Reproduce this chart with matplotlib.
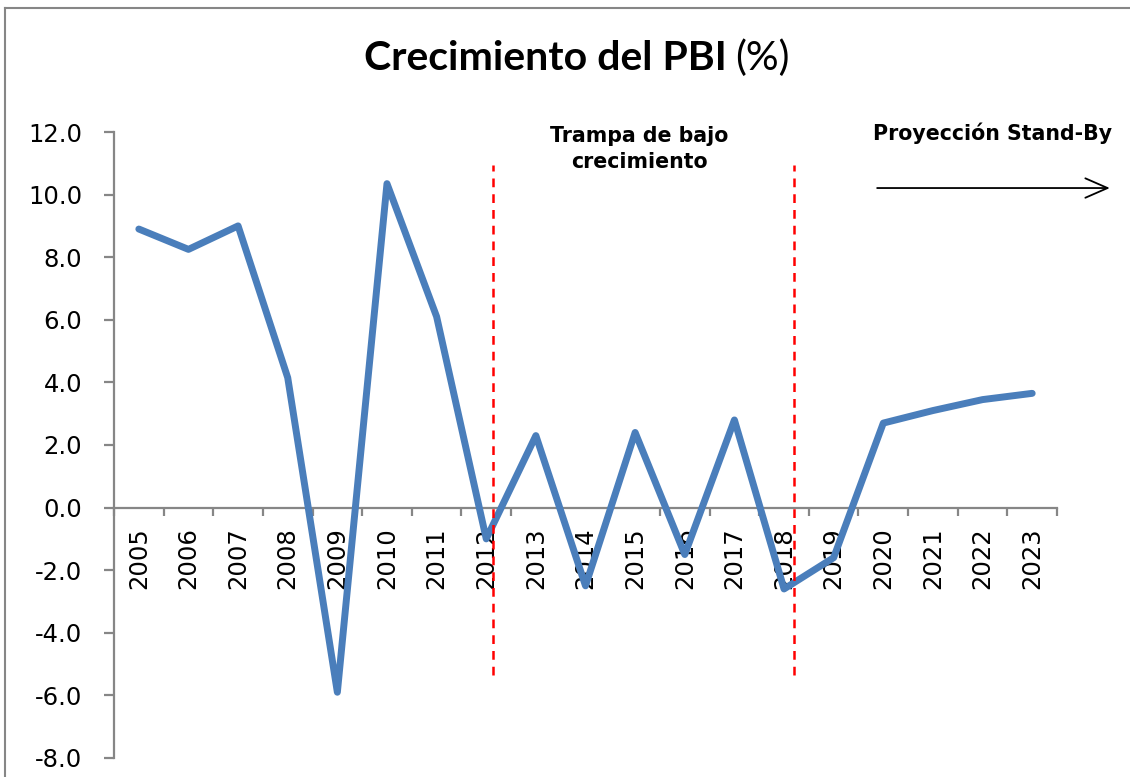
import matplotlib
matplotlib.use("Agg")
import matplotlib.pyplot as plt
from matplotlib.lines import Line2D

# data
years = [str(y) for y in range(2005, 2024)]
growth = [8.9, 8.25, 9.0, 4.15, -5.9, 10.35, 6.1, -1.0, 2.3, -2.5,
          2.4, -1.5, 2.8, -2.6, -1.6, 2.7, 3.1, 3.45, 3.65]
yticks = [-8, -6, -4, -2, 0, 2, 4, 6, 8, 10, 12]

# vertical markers (category index positions) and their vertical extent
split_x = [7.13, 13.2]
split_y = (-5.35, 10.95)

gray = '#868686'
blue = '#4A7EBB'

fig = plt.figure(figsize=(11.3, 7.77), dpi=100)
ax = fig.add_axes([0.1009, 0.0245, 0.8345, 0.8056])

x = list(range(len(years)))
ax.plot(x, growth, color=blue, lw=5, solid_joinstyle='round', solid_capstyle='round', zorder=3)

for sx in split_x:
    ax.plot([sx, sx], split_y, color='red', lw=1.8, ls=(0, (3.5, 2.8)), zorder=4)

ax.set_xlim(-0.5, len(years) - 0.5)
ax.set_ylim(-8, 12)

# spines
for s in ['top', 'right']:
    ax.spines[s].set_visible(False)
ax.spines['bottom'].set_position(('data', 0))
ax.spines['bottom'].set_color(gray)
ax.spines['left'].set_color(gray)
ax.spines['bottom'].set_linewidth(1.6)
ax.spines['left'].set_linewidth(1.6)
ax.spines['left'].set_zorder(1)

ax.set_yticks(yticks)
ax.set_yticklabels([f'{v:.1f}' for v in yticks], fontsize=17.5, family='DejaVu Sans')
ax.tick_params(axis='y', direction='out', length=7, width=1.6, color=gray, pad=16)

ax.set_xticks(x)
ax.set_xticklabels(years, rotation=90, fontsize=17.5, family='DejaVu Sans', va='top')
ax.tick_params(axis='x', which='major', length=0, pad=14)
ax.set_xticks([i - 0.5 for i in range(len(years) + 1)], minor=True)
ax.tick_params(axis='x', which='minor', direction='out', length=6, width=1.6, color=gray)

# annotations
ax.text(10.09, 11.46, 'Trampa de bajo\ncrecimiento', ha='center', va='center',
        fontsize=14.8, fontweight='bold', family='DejaVu Sans', linespacing=1.35)
ax.text(17.2, 11.97, 'Proyección Stand-By', ha='center', va='center',
        fontsize=14.8, fontweight='bold', family='DejaVu Sans', clip_on=False)
ax.annotate('', xy=(19.62, 10.21), xytext=(14.82, 10.21),
            arrowprops=dict(arrowstyle='->,head_length=1.6,head_width=0.7', lw=1.3, color='black'),
            annotation_clip=False)

# title: bold part + regular part
fig.text(727 / 1130, 1 - 58 / 777, 'Crecimiento del PBI', ha='right', va='center',
         fontsize=29.5, fontweight='bold', family='Lato')
fig.text(735 / 1130, 1 - 58 / 777, '(%)', ha='left', va='center',
         fontsize=29.5, family='Lato')

# outer chart frame (top and left edges visible)
fig.add_artist(Line2D([5 / 1130, 5 / 1130], [0, 1 - 8 / 777], transform=fig.transFigure,
                      color=gray, lw=1.5))
fig.add_artist(Line2D([5 / 1130, 1], [1 - 8 / 777, 1 - 8 / 777], transform=fig.transFigure,
                      color=gray, lw=1.5))

fig.savefig('out.png', dpi=100)
